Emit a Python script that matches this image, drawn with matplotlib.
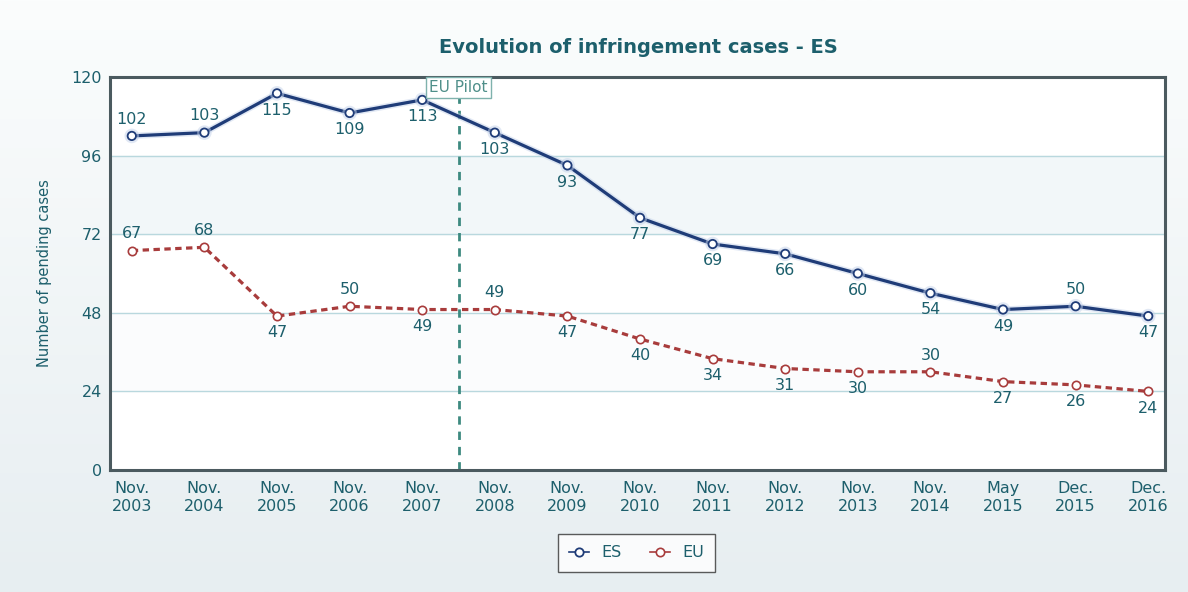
import numpy as np
import matplotlib
matplotlib.use('Agg')
import matplotlib.pyplot as plt
import matplotlib.patheffects as pe

# data
periods = ['Nov.\n2003', 'Nov.\n2004', 'Nov.\n2005', 'Nov.\n2006', 'Nov.\n2007',
           'Nov.\n2008', 'Nov.\n2009', 'Nov.\n2010', 'Nov.\n2011', 'Nov.\n2012',
           'Nov.\n2013', 'Nov.\n2014', 'May\n2015', 'Dec.\n2015', 'Dec.\n2016']
es_cases = [102, 103, 115, 109, 113, 103, 93, 77, 69, 66, 60, 54, 49, 50, 47]
eu_cases = [67, 68, 47, 50, 49, 49, 47, 40, 34, 31, 30, 30, 27, 26, 24]
# label above (+1) or below (-1) each point
es_pos = [1, 1, -1, -1, -1, -1, -1, -1, -1, -1, -1, -1, -1, 1, -1]
eu_pos = [1, 1, -1, 1, -1, 1, -1, -1, -1, -1, -1, 1, -1, -1, -1]
pilot_x = 4.5
y_ticks = [0, 24, 48, 72, 96, 120]

teal = '#1d5f6c'
es_col = '#1f3c78'
eu_col = '#a83c3c'

fig = plt.figure(figsize=(11.88, 5.92), dpi=100)
# soft vertical gradient background
bg = fig.add_axes([0, 0, 1, 1], zorder=-10)
grad = np.linspace(0, 1, 256).reshape(-1, 1)
cmap = matplotlib.colors.LinearSegmentedColormap.from_list('bg', ['#fbfdfd', '#e7eef1'])
bg.imshow(grad, aspect='auto', cmap=cmap, extent=[0, 1, 0, 1])
bg.axis('off')

ax = fig.add_axes([0.0926, 0.206, 0.888, 0.664])
x = np.arange(len(periods))

ax.set_facecolor('white')
ax.axhspan(72, 96, color='#f2f7f9', zorder=0)
ax.axhspan(24, 48, color='#fbfcfd', zorder=0)
for yv in y_ticks[1:-1]:
    ax.axhline(yv, color='#b9d8de', lw=1, zorder=1)

glow = [pe.Stroke(linewidth=4.5, foreground='#c4d2ea', alpha=0.5), pe.Normal()]
ax.plot(x, es_cases, color=es_col, lw=2.3, marker='o', ms=6, mfc='white', mec=es_col,
        mew=1.3, zorder=4, label='ES', path_effects=glow)
ax.plot(x, eu_cases, color=eu_col, lw=2.3, ls=(0, (2, 1.4)), marker='o', ms=6, mfc='white',
        mec=eu_col, mew=1.2, zorder=3, label='EU')

for xi, v, p in zip(x, es_cases, es_pos):
    ax.annotate(str(v), (xi, v), xytext=(0, 12 * p), textcoords='offset points',
                ha='center', va='center', fontsize=11.5, color=teal, zorder=5)
for xi, v, p in zip(x, eu_cases, eu_pos):
    ax.annotate(str(v), (xi, v), xytext=(0, 12 * p), textcoords='offset points',
                ha='center', va='center', fontsize=11.5, color=teal, zorder=5)

ax.axvline(pilot_x, color='#3d8a80', lw=2, ls=(0, (3, 2.5)), zorder=2)
ax.text(pilot_x, 119, 'EU Pilot', ha='center', va='top', fontsize=11, color='#4f8f8a',
        bbox=dict(boxstyle='square,pad=0.2', fc='white', ec='#7fb2ad', lw=1), zorder=6)

ax.set_xlim(-0.3, 14.23)
ax.set_ylim(0, 120)
ax.set_yticks(y_ticks)
ax.set_xticks(x)
ax.set_xticklabels(periods)
ax.tick_params(colors=teal, labelsize=11.5, length=0, pad=6)
ax.tick_params(axis='x', pad=8)
for lab in ax.get_xticklabels() + ax.get_yticklabels():
    lab.set_color(teal)
for s in ax.spines.values():
    s.set_color('#4b5a5f')
    s.set_linewidth(2.2)

ax.set_ylabel('Number of pending cases', color=teal, fontsize=10.5, labelpad=14)
fig.text(0.537, 0.92, 'Evolution of infringement cases - ES', ha='center', va='center',
         fontsize=14, fontweight='bold', color=teal)

leg = fig.legend(loc='center', bbox_to_anchor=(0.536, 0.066), ncol=2, frameon=True,
                 fontsize=11.5, handlelength=1.2, columnspacing=1.8, borderpad=0.7,
                 fancybox=False)
leg.get_frame().set_edgecolor('#333333')
leg.get_frame().set_linewidth(1)
for t in leg.get_texts():
    t.set_color(teal)
for h in leg.legend_handles:
    h.set_path_effects([])
    h.set_linestyle('-')
    h.set_linewidth(1.2)

fig.savefig('out.png', dpi=100)
